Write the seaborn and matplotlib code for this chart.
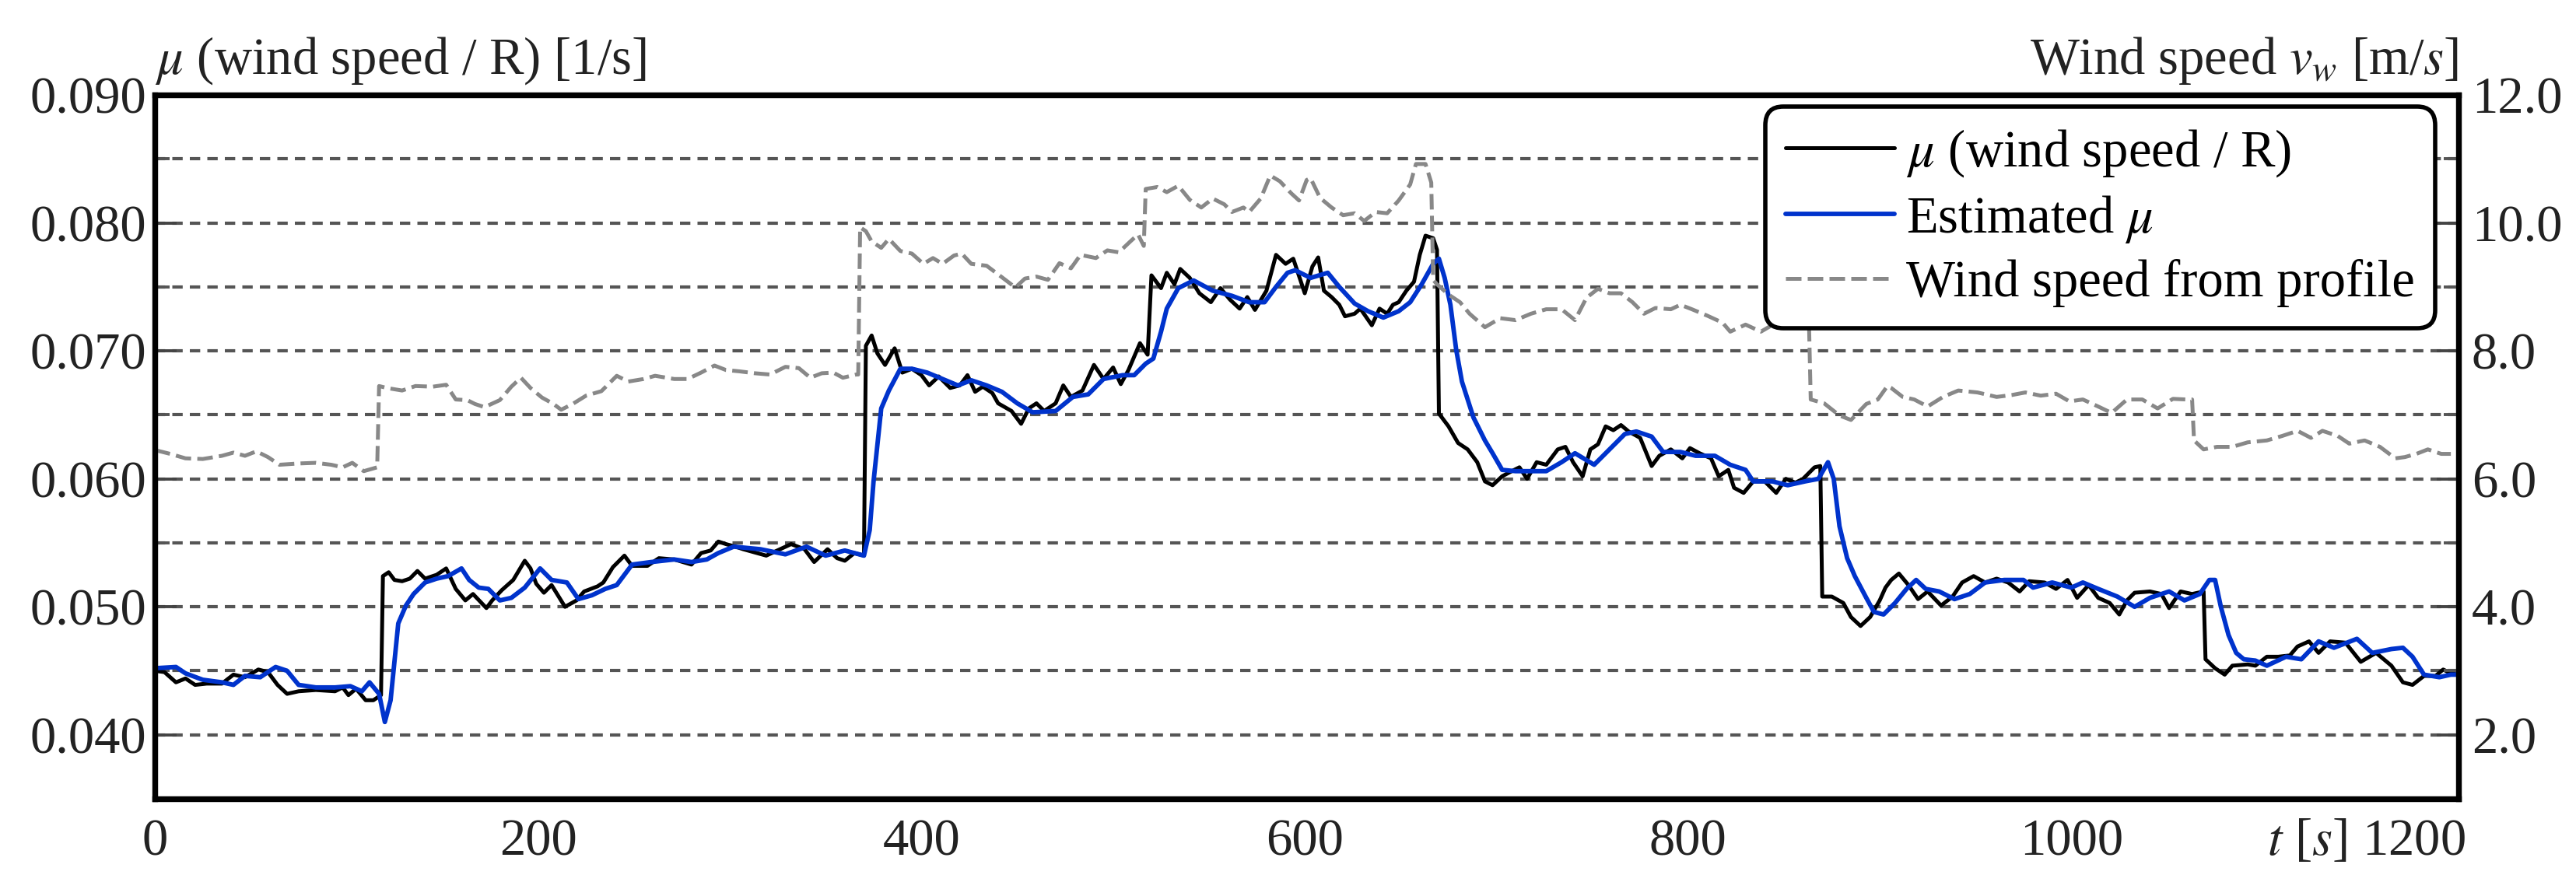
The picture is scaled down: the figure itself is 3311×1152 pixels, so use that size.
import matplotlib
matplotlib.use("Agg")
import matplotlib.pyplot as plt
import matplotlib.transforms as mtransforms
from matplotlib.ticker import FixedLocator, FormatStrFormatter, NullFormatter
import pandas as pd
import seaborn as sns

# ---------------- data ----------------
t_mu = [0, 5, 11, 16, 21, 27, 35, 41, 47, 54, 59, 64, 69, 75, 84, 94, 98, 101, 105, 110,
        114, 118, 119, 122, 125, 129, 133, 137, 141, 147, 152, 157, 162, 166, 173, 176, 181,
        187, 193, 196, 199, 203, 207, 214, 220, 224, 231, 234, 239, 245, 249, 257, 263, 271,
        280, 285, 290, 294, 298, 303, 307, 319, 332, 339, 344, 351, 356, 360, 365, 370, 371,
        374, 377, 381, 386, 390, 395, 400, 404, 409, 415, 420, 424, 428, 432, 437, 440, 447,
        452, 456, 460, 464, 470, 474, 478, 484, 490, 495, 500, 504, 508, 514, 518, 520, 525,
        528, 532, 535, 540, 545, 551, 556, 561, 566, 570, 574, 580, 585, 590, 594, 600, 604,
        607, 610, 614, 618, 621, 626, 629, 635, 639, 643, 646, 649, 653, 657, 660, 663, 667,
        669, 670, 675, 680, 685, 690, 694, 698, 703, 708, 712, 716, 721, 726, 732, 736, 740,
        745, 749, 753, 757, 761, 765, 769, 775, 781, 785, 791, 797, 801, 806, 812, 816, 821,
        824, 829, 834, 840, 846, 851, 856, 860, 866, 869, 870, 875, 881, 885, 890, 895, 900,
        903, 906, 910, 915, 920, 925, 932, 938, 943, 949, 955, 961, 967, 973, 978, 986, 992,
        998, 1003, 1009, 1014, 1020, 1025, 1029, 1033, 1041, 1047, 1051, 1057, 1063, 1069,
        1070, 1075, 1080, 1084, 1092, 1096, 1102, 1108, 1114, 1118, 1124, 1129, 1135, 1143,
        1151, 1159, 1167, 1173, 1178, 1184, 1190, 1194, 1198, 1202]
mu = [0.0450, 0.0449, 0.0441, 0.0444, 0.0439, 0.0440, 0.0440, 0.0447, 0.0445, 0.0451,
      0.0449, 0.0439, 0.0432, 0.0434, 0.0435, 0.0434, 0.0437, 0.0431, 0.0436, 0.0427,
      0.0427, 0.0431, 0.0524, 0.0527, 0.0521, 0.0520, 0.0522, 0.0528, 0.0522, 0.0525,
      0.0530, 0.0514, 0.0505, 0.0510, 0.0499, 0.0505, 0.0513, 0.0521, 0.0536, 0.0530,
      0.0518, 0.0511, 0.0517, 0.0500, 0.0505, 0.0512, 0.0516, 0.0519, 0.0531, 0.0540,
      0.0532, 0.0532, 0.0538, 0.0537, 0.0533, 0.0542, 0.0544, 0.0551, 0.0549, 0.0547,
      0.0545, 0.0540, 0.0549, 0.0545, 0.0535, 0.0545, 0.0538, 0.0536, 0.0542, 0.0540,
      0.0704, 0.0712, 0.0698, 0.0689, 0.0702, 0.0683, 0.0686, 0.0681, 0.0673, 0.0680,
      0.0671, 0.0673, 0.0681, 0.0668, 0.0672, 0.0667, 0.0659, 0.0653, 0.0643, 0.0655,
      0.0659, 0.0653, 0.0659, 0.0673, 0.0664, 0.0669, 0.0689, 0.0678, 0.0687, 0.0674,
      0.0685, 0.0706, 0.0697, 0.0759, 0.0749, 0.0761, 0.0752, 0.0764, 0.0757, 0.0745,
      0.0738, 0.0749, 0.0740, 0.0733, 0.0742, 0.0732, 0.0747, 0.0775, 0.0768, 0.0772,
      0.0745, 0.0766, 0.0773, 0.0747, 0.0742, 0.0736, 0.0727, 0.0729, 0.0733, 0.0720,
      0.0733, 0.0729, 0.0736, 0.0738, 0.0747, 0.0754, 0.0775, 0.0790, 0.0788, 0.0779,
      0.0651, 0.0641, 0.0628, 0.0623, 0.0613, 0.0598, 0.0595, 0.0602, 0.0606, 0.0609,
      0.0600, 0.0613, 0.0611, 0.0623, 0.0625, 0.0613, 0.0602, 0.0623, 0.0627, 0.0641,
      0.0638, 0.0642, 0.0637, 0.0632, 0.0610, 0.0618, 0.0623, 0.0616, 0.0624, 0.0620,
      0.0616, 0.0602, 0.0607, 0.0593, 0.0589, 0.0598, 0.0598, 0.0589, 0.0600, 0.0597,
      0.0600, 0.0609, 0.0610, 0.0508, 0.0508, 0.0503, 0.0492, 0.0485, 0.0492, 0.0505,
      0.0515, 0.0521, 0.0526, 0.0517, 0.0506, 0.0512, 0.0501, 0.0508, 0.0519, 0.0524,
      0.0519, 0.0522, 0.0519, 0.0512, 0.0520, 0.0519, 0.0514, 0.0521, 0.0507, 0.0517,
      0.0507, 0.0503, 0.0494, 0.0505, 0.0511, 0.0512, 0.0510, 0.0499, 0.0512, 0.0510,
      0.0512, 0.0459, 0.0452, 0.0447, 0.0454, 0.0455, 0.0454, 0.0461, 0.0461, 0.0462,
      0.0469, 0.0473, 0.0464, 0.0473, 0.0472, 0.0457, 0.0464, 0.0454, 0.0441, 0.0439,
      0.0446, 0.0446, 0.0451, 0.0448, 0.0447]

t_est = [0, 11, 16, 25, 35, 41, 47, 55, 63, 69, 75, 84, 94, 102, 108, 112, 117, 120, 123,
         125, 127, 131, 135, 141, 147, 153, 160, 164, 169, 174, 180, 186, 193, 201, 207, 215,
         221, 228, 235, 241, 249, 259, 271, 280, 288, 294, 302, 316, 329, 340, 350, 360, 370,
         373, 375, 379, 383, 389, 395, 403, 411, 419, 426, 434, 442, 450, 458, 470, 479, 487,
         495, 505, 511, 517, 521, 525, 528, 534, 542, 552, 562, 571, 579, 585, 591, 595, 603,
         612, 618, 626, 633, 641, 649, 655, 661, 667, 670, 673, 676, 679, 682, 688, 694, 698,
         703, 710, 718, 726, 734, 741, 751, 759, 767, 773, 781, 787, 796, 804, 814, 822, 830,
         834, 844, 852, 861, 868, 873, 876, 879, 883, 887, 893, 897, 902, 908, 914, 919, 924,
         931, 939, 947, 955, 965, 975, 980, 990, 1000, 1006, 1014, 1024, 1033, 1041, 1051,
         1059, 1067, 1072, 1075, 1078, 1082, 1086, 1090, 1096, 1102, 1112, 1120, 1129, 1137,
         1149, 1157, 1167, 1173, 1178, 1184, 1192, 1198, 1202]
mu_est = [0.0452, 0.0453, 0.0448, 0.0443, 0.0441, 0.0439, 0.0446, 0.0445, 0.0453, 0.0450,
          0.0439, 0.0437, 0.0437, 0.0438, 0.0434, 0.0441, 0.0432, 0.0410, 0.0427, 0.0457,
          0.0487, 0.0501, 0.0510, 0.0519, 0.0522, 0.0524, 0.0530, 0.0521, 0.0515, 0.0514,
          0.0505, 0.0507, 0.0515, 0.0530, 0.0521, 0.0519, 0.0506, 0.0509, 0.0514, 0.0517,
          0.0533, 0.0535, 0.0537, 0.0535, 0.0537, 0.0542, 0.0547, 0.0545, 0.0541, 0.0547,
          0.0540, 0.0544, 0.0540, 0.0560, 0.0598, 0.0655, 0.0669, 0.0686, 0.0686, 0.0683,
          0.0678, 0.0673, 0.0677, 0.0673, 0.0668, 0.0659, 0.0652, 0.0653, 0.0664, 0.0666,
          0.0678, 0.0681, 0.0681, 0.0690, 0.0694, 0.0715, 0.0733, 0.0749, 0.0755, 0.0747,
          0.0743, 0.0738, 0.0738, 0.0750, 0.0761, 0.0763, 0.0757, 0.0761, 0.0750, 0.0737,
          0.0731, 0.0726, 0.0731, 0.0738, 0.0752, 0.0768, 0.0772, 0.0757, 0.0736, 0.0701,
          0.0676, 0.0648, 0.0630, 0.0620, 0.0607, 0.0606, 0.0606, 0.0606, 0.0613, 0.0620,
          0.0611, 0.0623, 0.0635, 0.0637, 0.0633, 0.0621, 0.0621, 0.0618, 0.0618, 0.0611,
          0.0607, 0.0598, 0.0598, 0.0595, 0.0598, 0.0600, 0.0613, 0.0600, 0.0563, 0.0538,
          0.0524, 0.0507, 0.0496, 0.0494, 0.0503, 0.0514, 0.0521, 0.0514, 0.0512, 0.0506,
          0.0510, 0.0519, 0.0521, 0.0521, 0.0515, 0.0519, 0.0515, 0.0519, 0.0514, 0.0508,
          0.0500, 0.0507, 0.0512, 0.0505, 0.0510, 0.0521, 0.0521, 0.0500, 0.0478, 0.0464,
          0.0459, 0.0458, 0.0454, 0.0461, 0.0459, 0.0473, 0.0468, 0.0475, 0.0464, 0.0467,
          0.0468, 0.0461, 0.0447, 0.0445, 0.0447, 0.0447]

t_wind = [0, 8, 16, 25, 35, 41, 47, 53, 59, 65, 75, 84, 92, 98, 103, 109, 116, 117, 121,
          129, 136, 145, 152, 157, 163, 167, 172, 180, 186, 191, 196, 202, 208, 212, 218, 225,
          233, 241, 247, 255, 261, 271, 278, 285, 292, 298, 305, 313, 321, 329, 336, 342, 348,
          354, 359, 366, 367, 368, 371, 374, 379, 383, 389, 395, 401, 406, 411, 417, 421, 426,
          434, 442, 449, 454, 460, 466, 472, 478, 483, 491, 497, 503, 509, 513, 516, 517, 523,
          528, 534, 540, 546, 552, 558, 562, 568, 571, 577, 582, 587, 593, 597, 601, 603, 608,
          614, 620, 626, 631, 637, 643, 649, 655, 658, 663, 666, 667, 669, 675, 681, 686, 694,
          702, 710, 718, 726, 734, 741, 747, 753, 759, 765, 771, 777, 783, 791, 796, 802, 810,
          818, 822, 830, 838, 846, 853, 861, 863, 864, 871, 879, 885, 893, 899, 904, 906, 912,
          918, 925, 933, 941, 951, 961, 969, 976, 984, 992, 999, 1006, 1014, 1021, 1029, 1037,
          1045, 1053, 1060, 1063, 1064, 1069, 1076, 1084, 1092, 1102, 1110, 1118, 1125, 1131,
          1139, 1145, 1153, 1161, 1169, 1174, 1180, 1186, 1193, 1198]
wind = [6.45, 6.39, 6.32, 6.31, 6.36, 6.41, 6.36, 6.43, 6.34, 6.22, 6.24, 6.25, 6.22, 6.18,
        6.25, 6.12, 6.18, 7.45, 7.42, 7.38, 7.45, 7.44, 7.47, 7.24, 7.23, 7.17, 7.12, 7.23,
        7.44, 7.58, 7.42, 7.27, 7.17, 7.08, 7.17, 7.30, 7.37, 7.61, 7.52, 7.56, 7.61, 7.56,
        7.56, 7.66, 7.77, 7.70, 7.68, 7.65, 7.63, 7.75, 7.73, 7.58, 7.65, 7.66, 7.58, 7.63,
        7.63, 9.93, 9.87, 9.71, 9.61, 9.75, 9.56, 9.52, 9.36, 9.45, 9.36, 9.49, 9.52, 9.36,
        9.33, 9.15, 8.99, 9.13, 9.16, 9.11, 9.37, 9.29, 9.50, 9.45, 9.57, 9.54, 9.71, 9.82,
        9.64, 10.53, 10.56, 10.48, 10.58, 10.36, 10.24, 10.38, 10.29, 10.17, 10.24, 10.17,
        10.38, 10.74, 10.65, 10.46, 10.35, 10.67, 10.70, 10.39, 10.24, 10.12, 10.15, 10.03,
        10.17, 10.15, 10.35, 10.60, 10.92, 10.92, 10.63, 9.11, 9.04, 8.88, 8.76, 8.58, 8.37,
        8.51, 8.48, 8.58, 8.65, 8.65, 8.48, 8.83, 8.97, 8.90, 8.90, 8.76, 8.58, 8.67, 8.65,
        8.72, 8.65, 8.55, 8.44, 8.30, 8.41, 8.30, 8.44, 8.37, 8.55, 8.55, 7.24, 7.18, 6.99,
        6.92, 7.17, 7.24, 7.45, 7.42, 7.28, 7.24, 7.13, 7.28, 7.38, 7.35, 7.28, 7.31, 7.35,
        7.30, 7.33, 7.21, 7.24, 7.13, 7.03, 7.24, 7.24, 7.10, 7.25, 7.24, 7.24, 6.60, 6.46,
        6.50, 6.50, 6.57, 6.60, 6.67, 6.75, 6.64, 6.75, 6.67, 6.55, 6.60, 6.50, 6.32, 6.34,
        6.39, 6.46, 6.39, 6.39]

x_ticks = [0, 200, 400, 600, 800, 1000, 1200]
x_tick_labels = ["0", "200", "400", "600", "800", "1000", r"$t$ [$s$] 1200"]
x_grid = [200, 400, 600, 800, 1000]
left_ticks = [0.040, 0.050, 0.060, 0.070, 0.080, 0.090]
left_minor = [0.045, 0.055, 0.065, 0.075, 0.085]
right_ticks = [2.0, 4.0, 6.0, 8.0, 10.0, 12.0]
right_minor = [3.0, 5.0, 7.0, 9.0, 11.0]

label_mu = r"$\mu$ (wind speed / R)"
label_est = r"Estimated $\mu$"
label_wind = "Wind speed from profile"
title_left = r"$\mu$ (wind speed / R) [1/s]"
title_right = r"Wind speed $v_w$ [m/$s$]"

df_mu = pd.DataFrame({"t": t_mu, "v": mu})
df_est = pd.DataFrame({"t": t_est, "v": mu_est})
df_wind = pd.DataFrame({"t": t_wind, "v": wind})

# ---------------- style ----------------
sns.set_theme(style="white")
plt.rcParams["font.family"] = ["Liberation Serif", "DejaVu Serif"]
plt.rcParams["mathtext.fontset"] = "stix"
FS = 24
TXT = "#222222"

fig = plt.figure(figsize=(16.56, 5.76), dpi=200)
ax = fig.add_axes([0.0601, 0.1085, 0.894, 0.7856])
ax2 = ax.twinx()

sns.lineplot(data=df_mu, x="t", y="v", ax=ax, color="black", linewidth=1.8,
             estimator=None, sort=False, label=label_mu, legend=False)
sns.lineplot(data=df_est, x="t", y="v", ax=ax, color="#0033cc", linewidth=2.1,
             estimator=None, sort=False, label=label_est, legend=False)
sns.lineplot(data=df_wind, x="t", y="v", ax=ax2, color="#888888", linewidth=1.8,
             estimator=None, sort=False, label=label_wind, legend=False)
for ln in ax2.get_lines():
    if ln.get_label() == label_wind:
        ln.set_dashes((4.0, 1.6))

ax.set_xlim(0, 1202)
ax.set_ylim(0.035, 0.090)
ax2.set_ylim(1.0, 12.0)
ax.set_xlabel("")
ax.set_ylabel("")
ax2.set_ylabel("")

# x ticks
ax.xaxis.set_major_locator(FixedLocator(x_ticks))
ax.set_xticklabels(x_tick_labels)
ax.xaxis.set_minor_locator(FixedLocator(x_grid))
ax.tick_params(axis="x", which="both", length=0, pad=9, labelsize=FS, labelcolor=TXT)
lab = ax.get_xticklabels()[-1]
lab.set_horizontalalignment("right")
lab.set_transform(lab.get_transform() + mtransforms.ScaledTranslation(5 / 72, 0, fig.dpi_scale_trans))

# left y ticks
ax.yaxis.set_major_locator(FixedLocator(left_ticks))
ax.yaxis.set_major_formatter(FormatStrFormatter("%.3f"))
ax.yaxis.set_minor_locator(FixedLocator(left_minor))
ax.yaxis.set_minor_formatter(NullFormatter())
ax.tick_params(axis="y", which="major", direction="in", length=10, width=1.4,
               color="#444444", pad=4, labelsize=FS, labelcolor=TXT, left=True)
ax.tick_params(axis="y", which="minor", direction="in", length=7, width=1.4,
               color="#555555", left=True)

# right y ticks
ax2.yaxis.set_major_locator(FixedLocator(right_ticks))
ax2.yaxis.set_major_formatter(FormatStrFormatter("%.1f"))
ax2.yaxis.set_minor_locator(FixedLocator(right_minor))
ax2.yaxis.set_minor_formatter(NullFormatter())
ax2.tick_params(axis="y", which="major", direction="in", length=10, width=1.4,
                color="#444444", pad=6, labelsize=FS, labelcolor=TXT, right=True)
ax2.tick_params(axis="y", which="minor", direction="in", length=7, width=1.4,
                color="#555555", right=True)

# grids
ax.grid(False)
ax2.grid(False)
ax.grid(axis="y", which="both", color="#555555", linewidth=1.5, linestyle=(0, (3.2, 2.2)))
ax.grid(axis="x", which="minor", color="black", linewidth=1.0, linestyle=(0, (4.3, 2.9)))
ax.set_axisbelow(True)

for a in (ax, ax2):
    for s in a.spines.values():
        s.set_visible(True)
        s.set_color("black")
        s.set_linewidth(2.6)

# axis titles
ax.text(0.0, 1.03, title_left, transform=ax.transAxes, ha="left", va="baseline",
        fontsize=FS, color=TXT)
ax.text(1.0, 1.03, title_right, transform=ax.transAxes, ha="right", va="baseline",
        fontsize=FS, color=TXT)

# legend
handles = [h for h in ax.get_lines() if h.get_label() in (label_mu, label_est)] + \
          [h for h in ax2.get_lines() if h.get_label() == label_wind]
leg = ax2.legend(handles=handles, labels=[label_mu, label_est, label_wind],
                 loc="upper right", bbox_to_anchor=(0.990, 0.983), borderaxespad=0,
                 fontsize=FS, frameon=True, fancybox=True, framealpha=1,
                 handlelength=2.1, handletextpad=0.22, labelspacing=0.28,
                 borderpad=0.4)
fr = leg.get_frame()
fr.set_edgecolor("black")
fr.set_linewidth(2.0)
fr.set_facecolor("white")
fr.set_boxstyle("round", pad=0, rounding_size=0.35)
for txt in leg.get_texts():
    txt.set_color("black")

fig.savefig("out.png", dpi=200)
